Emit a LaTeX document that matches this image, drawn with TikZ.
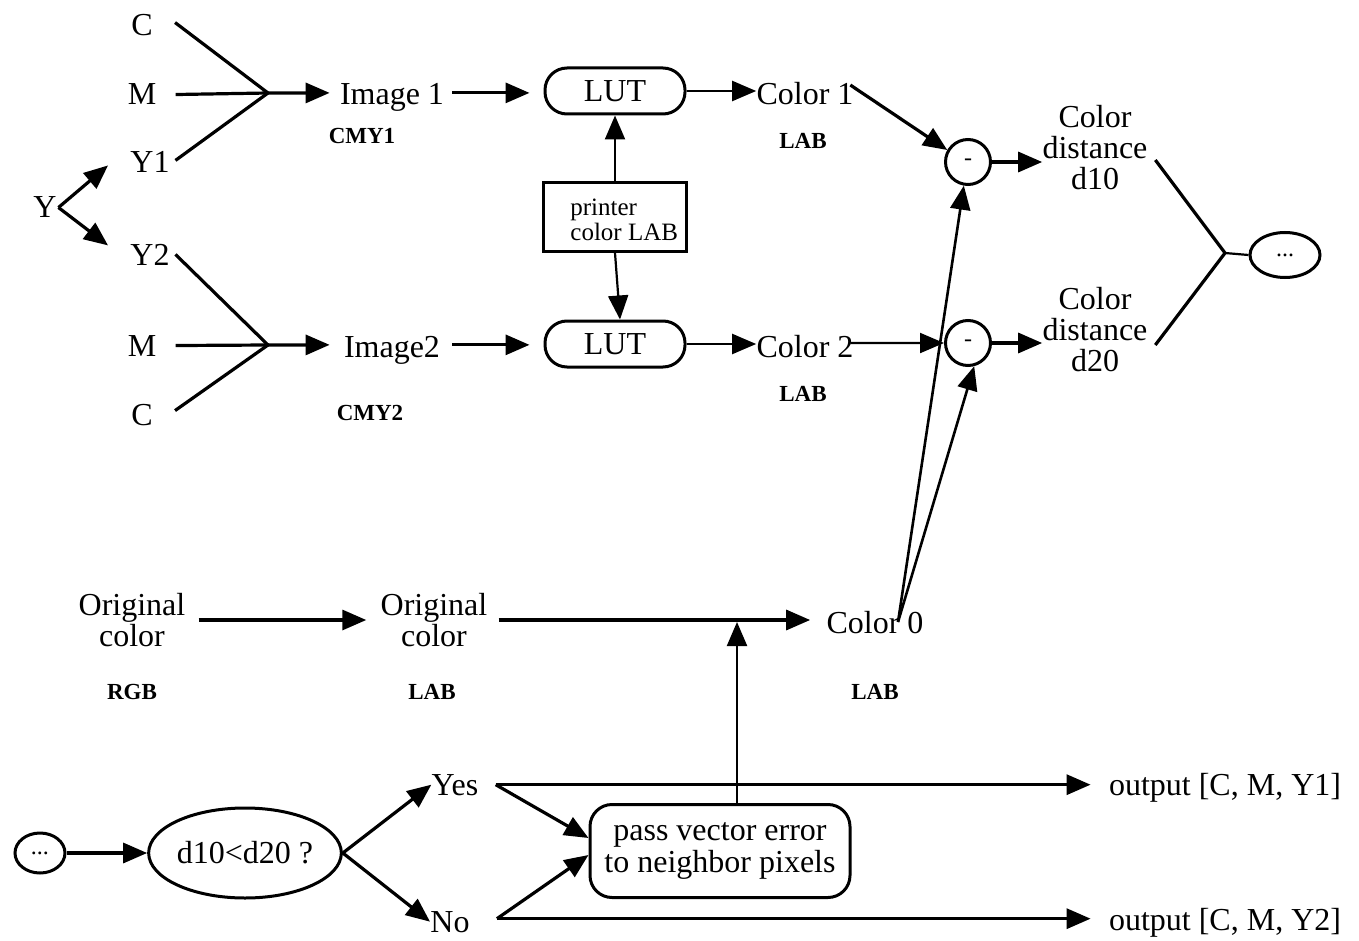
\documentclass[tikz,border=0pt]{standalone}
\usepackage{fontspec}
\setmainfont{Liberation Serif}
\usetikzlibrary{arrows.meta,shapes.geometric}
\begin{document}
\begin{tikzpicture}[x=0.5pt,y=-0.5pt,
  big/.style={font=\fontsize{16}{15.5}\selectfont, inner sep=0pt, anchor=base},
  bigc/.style={font=\fontsize{16}{15.5}\selectfont, inner sep=0pt, align=center},
  small/.style={font=\bfseries\fontsize{11.5}{14}\selectfont, inner sep=0pt, anchor=base},
  arr/.style={-{Triangle[length=12pt,width=10pt]}, line width=1.6pt},
  tarr/.style={-{Triangle[length=12pt,width=10pt]}, line width=1.1pt},
  ln/.style={line width=1.6pt},
  lutbox/.style={draw, line width=1.5pt, rounded corners=11pt, minimum width=70pt, minimum height=23pt, inner sep=0pt, font=\fontsize{16}{19}\selectfont},
  minus/.style={draw, circle, line width=1.5pt, minimum size=22.5pt, inner sep=0pt, font=\fontsize{12}{14}\selectfont},
  oval/.style={draw, ellipse, line width=1.5pt, inner sep=0pt},
]
\useasboundingbox (0,0) rectangle (1359,941);

% ---------- top-left inputs ----------
\node[big] (C1) at (142,36) {C};
\node[big] (M1) at (142,105) {M};
\node[big] (Y1) at (150,173) {Y1};
\node[big] (Y)  at (45,218) {Y};
\node[big] (Y2) at (150,265) {Y2};
\node[big] (M2) at (142,356) {M};
\node[big] (C2) at (142,425) {C};
\coordinate (J1) at (268,93);
\coordinate (J2) at (268,345);

\draw[arr] ([xshift=0.75pt]Y.east) -- ([xshift=-11pt,yshift=-1.5pt]Y1.west);
\draw[arr] ([xshift=0.75pt]Y.east) -- ([xshift=-11pt,yshift=4.5pt]Y2.west);

\draw[ln] ([xshift=11pt,yshift=1.5pt]C1.east) -- (J1);
\draw[ln] ([xshift=9.5pt]M1.east) -- (J1);
\draw[ln] ([xshift=2.75pt,yshift=1pt]Y1.east) -- (J1);
\node[big] (Im1) at (392,105) {Image 1};
\node[small] (cmy1) at (362,144) {CMY1};
\draw[arr] (J1) -- ([xshift=-5pt,yshift=2.5pt]Im1.west);

\draw[ln] ([xshift=2.75pt]Y2.east) -- (J2);
\draw[ln] ([xshift=9.5pt]M2.east) -- (J2);
\draw[ln] ([xshift=11pt,yshift=2pt]C2.east) -- (J2);
\node[big] (Im2) at (392,357) {Image2};
\node[small] (cmy2) at (370,420) {CMY2};
\draw[arr] (J2) -- ([xshift=-7pt,yshift=2.5pt]Im2.west);

% ---------- LUTs ----------
\node[lutbox] (LUT1) at (615,91) {LUT};
\node[lutbox] (LUT2) at (615,344) {LUT};
\draw[arr, shorten >=7pt] ([xshift=4pt,yshift=2.5pt]Im1.east) -- ([yshift=2.5pt]Im1.east -| LUT1.west);
\draw[arr, shorten >=7pt] ([xshift=6pt,yshift=2.5pt]Im2.east) -- ([yshift=2.5pt]Im2.east -| LUT2.west);

\node[draw, line width=1.5pt, minimum width=71.5pt, minimum height=34.5pt, inner sep=0pt] (printer) at (615,217) {};
\node[font=\fontsize{12.5}{12.5}\selectfont, inner sep=0pt, align=left, anchor=west] (ptext) at (570,220) {printer\\color LAB};
\draw[tarr] (printer.north) -- (LUT1.south);
\draw[tarr] (printer.south) -- ([xshift=2.5pt]LUT2.north);

\node[big] (Col1) at (805,105) {Color 1};
\node[small] (lab1) at (803,149) {LAB};
\node[big] (Col2) at (805,357) {Color 2};
\node[small] (lab2) at (803,401) {LAB};
\draw[tarr] (LUT1.east) -- (LUT1.east -| Col1.west);
\draw[tarr] (LUT2.east) -- (LUT2.east -| Col2.west);

% ---------- differences ----------
\node[minus] (D1) at (968,162) {-};
\node[minus] (D2) at (968,343) {-};
\draw[arr] ([xshift=-1.75pt,yshift=4.5pt]Col1.east) -- (D1.150);
\draw[tarr] ([xshift=-1.75pt,yshift=1.5pt]Col2.east) -- (D2.west);

\node[bigc] (d10) at (1095,148) {Color\\distance\\d10};
\node[bigc] (d20) at (1095,330) {Color\\distance\\d20};
\draw[arr] (D1.east) -- (D1.east -| d10.west);
\draw[arr] (D2.east) -- (D2.east -| d20.west);

\coordinate (J3) at (1225,253);
\node[oval, minimum width=35pt, minimum height=22.5pt, font=\fontsize{12}{14}\selectfont] (dots1) at (1285,255) {...};
\draw[ln] ([xshift=3.75pt,yshift=-6pt]d10.east) -- (J3) -- ([xshift=3.75pt,yshift=-7.5pt]d20.east);
\draw[line width=1.1pt] (J3) -- (dots1.west);

% ---------- original colour path ----------
\node[bigc] (oRGB) at (132,620) {Original\\color};
\node[small] (rgb) at (132,699) {RGB};
\node[bigc] (oLAB) at (434,620) {Original\\color};
\node[small] (lab3) at (432,699) {LAB};
\node[big] (Col0) at (875,633) {Color 0};
\node[small] (lab0) at (875,699) {LAB};
\draw[arr, shorten >=7pt] ([xshift=6.5pt]oRGB.east) -- (oLAB.west);
\draw[arr, shorten >=8pt] ([xshift=5.5pt]oLAB.east) -- (oLAB.east -| Col0.west);

\coordinate (c0) at (898,622);
\draw[tarr, line width=1.3pt] (c0) -- (D1.-100);
\draw[tarr, line width=1.3pt] (c0) -- (D2.-75);

% ---------- decision ----------
\node[oval, minimum width=25pt, minimum height=20pt, font=\fontsize{12}{14}\selectfont] (dots2) at (40,853) {...};
\node[oval, minimum width=95pt, minimum height=45pt, font=\fontsize{16}{19}\selectfont] (dec) at (245,853) {d10<d20 ?};
\draw[arr] (dots2.east) -- (dec.west);

\node[big] (yes) at (455,795) {Yes};
\node[big] (no) at (450,932) {No};
\draw[arr] (dec.east) -- (yes.west);
\draw[arr] (dec.east) -- (no.west);

\node[draw, line width=1.5pt, rounded corners=11pt, minimum width=130pt, minimum height=46.5pt, inner sep=0pt, align=center, font=\fontsize{16}{16}\selectfont] (pass) at (720,851) {pass vector error\\to neighbor pixels};

\node[big] (out1) at (1225,795) {output [C, M, Y1]};
\node[big] (out2) at (1225,930) {output [C, M, Y2]};
\coordinate (ys) at ([xshift=8.5pt]yes.east);
\coordinate (ns) at ([xshift=13.5pt,yshift=1.5pt]no.east);
\draw[arr, shorten >=9pt] (ys) -- (ys -| out1.west);
\draw[arr, shorten >=9pt] (ns) -- (ns -| out2.west);
\draw[arr] (ys) -- ([yshift=6.5pt]pass.west);
\draw[arr] (ns) -- ([yshift=-2pt]pass.west);

\coordinate (t0) at (737,622);
\draw[tarr] ([xshift=8.5pt]pass.north) -- (t0);
\end{tikzpicture}
\end{document}
